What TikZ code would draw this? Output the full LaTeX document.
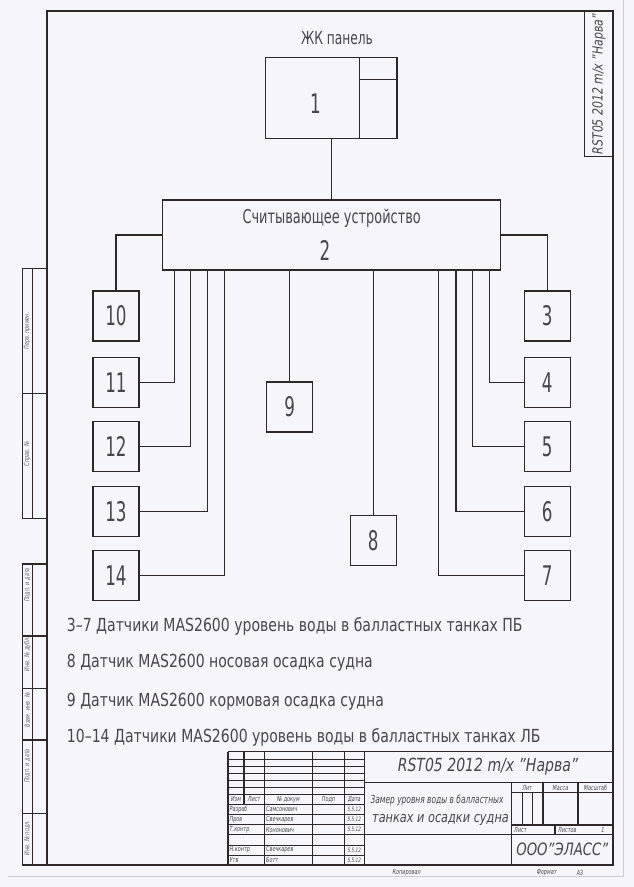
\documentclass[tikz,border=0pt]{standalone}
\usepackage{fontspec}
\setmainfont{DejaVu Sans}[FakeStretch=0.78]
\newfontfamily\numfont{DejaVu Sans}[FakeStretch=0.62]
\newfontfamily\smallfont{DejaVu Sans}[FakeStretch=0.7]
\newfontfamily\narrowfont{DejaVu Sans}[FakeStretch=0.68]
\usetikzlibrary{calc}
\definecolor{ink}{RGB}{45,40,42}
\definecolor{txt}{RGB}{72,70,76}
\definecolor{paper}{RGB}{245,245,250}
\definecolor{edge}{RGB}{205,205,212}
\tikzset{
  sbox/.style={draw=ink,line width=1.2pt,minimum width=46pt,minimum height=50pt,inner sep=0pt,
    font=\numfont\fontsize{27}{27}\selectfont,text=txt},
  wire/.style={draw=ink,line width=1.1pt},
  frm/.style={draw=ink,line width=1.8pt},
  tb/.style={draw=ink,line width=1.4pt},
  tbthin/.style={draw=ink,line width=0.5pt},
  legend/.style={anchor=base west,inner sep=0pt,text=txt,font=\fontsize{18}{18}\selectfont},
  tiny/.style={inner sep=0pt,text=txt,font=\smallfont\itshape\fontsize{7}{7}\selectfont},
  sidelab/.style={inner sep=0pt,text=txt!85,rotate=90,font=\smallfont\itshape\fontsize{7}{7}\selectfont}
}
\begin{document}
\begin{tikzpicture}[x=1pt,y=-1pt]
\useasboundingbox (0,0) rectangle (634,887);
\fill[paper] (0,0) rectangle (634,887);
% paper edge
\draw[edge,line width=0.8pt] (8,876) -- (623,876) -- (623,0);

% frame
\draw[frm] (47,11) rectangle (613,865);
% top right stamp
\draw[tb] (584.6,11) rectangle (613,156.7);
\node[rotate=90,inner sep=0pt,text=txt,font=\itshape\fontsize{14}{14}\selectfont] (stamp) at (599,84) {RST05 2012 m/x "Нарва"};

% left strips
\draw[tb] (22.3,268.3) rectangle (47,518.3);
\draw[tb] (32.3,268.3) -- (32.3,518.3);
\draw[tb] (22.3,393.3) -- (47,393.3);
\draw[tb] (22.3,564) rectangle (47,865);
\draw[tb] (32.3,564) -- (32.3,865);
\foreach \yy in {636,688.3,740,813.3} \draw[tb] (22.3,\yy) -- (47,\yy);
\node[sidelab] (s1) at (27.3,331) {Перв. примен.};
\node[sidelab] (s2) at (27.3,454) {Справ. №};
\node[sidelab] (s3) at (27.3,585) {Подп. и дата};
\node[sidelab] (s4) at (27.3,654) {Инв. № дубл.};
\node[sidelab] (s5) at (27.3,710) {Взам. инв. №};
\node[sidelab] (s6) at (27.3,766) {Подп. и дата};
\node[sidelab] (s7) at (27.3,838) {Инв. № подл.};

% LCD panel
\node[inner sep=0pt,text=txt,font=\narrowfont\fontsize{18}{18}\selectfont] (lcdlab) at (337,38.3) {ЖК панель};
\node[draw=ink,line width=1.2pt,minimum width=131.4pt,minimum height=81pt,inner sep=0pt] (lcd) at (331.3,98.2) {};
\draw[wire] ($(lcd.north west)+(94.6,0)$) -- ($(lcd.south west)+(94.6,0)$);
\draw[wire] ($(lcd.north west)+(94.6,22.3)$) -- ($(lcd.north east)+(0,22.3)$);
\node[inner sep=0pt,text=txt,font=\numfont\fontsize{27}{27}\selectfont] (lcdnum) at (315.4,103.3) {1};

% reader
\node[draw=ink,line width=1.2pt,minimum width=338pt,minimum height=70pt,inner sep=0pt] (reader) at (331.7,235) {};
\node[inner sep=0pt,text=txt,font=\narrowfont\fontsize{19}{19}\selectfont] (readerlab) at (331.7,218.3) {Считывающее устройство};
\node[inner sep=0pt,text=txt,font=\numfont\fontsize{27}{27}\selectfont] (readernum) at (325,250) {2};
\draw[wire] (lcd.south) -- (lcd.south |- reader.north);

% sensor boxes
\node[sbox] (b10) at (116,316) {10};
\node[sbox] (b11) at (116,382.2) {11};
\node[sbox] (b12) at (116,446.5) {12};
\node[sbox] (b13) at (116,511.3) {13};
\node[sbox] (b14) at (116,575.8) {14};
\node[sbox] (b3) at (547.2,316) {3};
\node[sbox] (b4) at (547.2,382.2) {4};
\node[sbox] (b5) at (547.2,446.5) {5};
\node[sbox] (b6) at (547.2,511.3) {6};
\node[sbox] (b7) at (547.2,575.8) {7};
\node[sbox] (b9) at (289.7,407) {9};
\node[sbox] (b8) at (373.1,540.7) {8};

% taps on reader bottom
\coordinate (t11) at (174.7,270);
\coordinate (t12) at (190.8,270);
\coordinate (t13) at (207.5,270);
\coordinate (t14) at (224.9,270);
\coordinate (t7) at (438.9,270);
\coordinate (t6) at (456,270);
\coordinate (t5) at (472.8,270);
\coordinate (t4) at (489.6,270);

\draw[wire] (reader.west) -| (b10.north);
\draw[wire] (reader.east) -| (b3.north);
\draw[wire] (b11.east) -| (t11);
\draw[wire] (b12.east) -| (t12);
\draw[wire] (b13.east) -| (t13);
\draw[wire] (b14.east) -| (t14);
\draw[wire] (b4.west) -| (t4);
\draw[wire] (b5.west) -| (t5);
\draw[wire] (b6.west) -| (t6);
\draw[wire] (b7.west) -| (t7);
\draw[wire] (b9.north) -- (b9.north |- reader.south);
\draw[wire] (b8.north) -- (b8.north |- reader.south);

% legend
\node[legend] (l1) at (66.7,631) {3–7 Датчики MAS2600 уровень воды в балластных танках ПБ};
\node[legend] (l2) at (66.7,667.7) {8 Датчик MAS2600 носовая осадка судна};
\node[legend] (l3) at (66.7,706) {9 Датчик MAS2600 кормовая осадка судна};
\node[legend] (l4) at (66.7,742.7) {10–14 Датчики MAS2600 уровень воды в балластных танках ЛБ};

% title block
\draw[tb] (228,751.7) -- (613,751.7);
\draw[tb] (228,751.7) -- (228,865);
\foreach \xx in {264.3,312.7,344.3,364.5} \draw[tb] (\xx,751.7) -- (\xx,865);
\draw[tb] (244,751.7) -- (244,804.3);
\foreach \yy in {758.8,765.9,773,780.1,787.2,814.4,824.5,834.6,844.8,854.9} \draw[tbthin] (228,\yy) -- (364.5,\yy);
\draw[tb] (228,794.3) -- (364.5,794.3);
\draw[tb] (228,804.3) -- (364.5,804.3);
\draw[tb] (364.5,782.3) -- (613,782.3);
\draw[tb] (364.5,834.3) -- (613,834.3);
\draw[tb] (511.7,782.3) -- (511.7,865);
\draw[tb] (511.7,792.7) -- (613,792.7);
\draw[tb] (511.7,825) -- (613,825);
\draw[tb] (542.9,782.3) -- (542.9,825);
\draw[tb] (578,782.3) -- (578,825);
\draw[tbthin] (522.1,792.7) -- (522.1,825);
\draw[tbthin] (532.5,792.7) -- (532.5,825);
\draw[tb] (555,825) -- (555,834.3);

\node[tiny] (h1) at (236,799.3) {Изм};
\node[tiny] (h2) at (254.2,799.3) {Лист};
\node[tiny] (h3) at (288.5,799.3) {№ докум};
\node[tiny] (h4) at (328.5,799.3) {Подп};
\node[tiny] (h5) at (354.4,799.3) {Дата};
\node[tiny,anchor=west] (r1) at (229.5,809.4) {Разраб};
\node[tiny,anchor=west] (r2) at (229.5,819.5) {Пров};
\node[tiny,anchor=west] (r3) at (229.5,829.6) {Т.контр};
\node[tiny,anchor=west] (r4) at (229.5,849.9) {Н.контр};
\node[tiny,anchor=west] (r5) at (229.5,860) {Утв};
\node[tiny,anchor=west] (n1) at (266,809.4) {Самсонович};
\node[tiny,anchor=west] (n2) at (266,819.5) {Свечкарев};
\node[tiny,anchor=west] (n3) at (266,829.6) {Кононович};
\node[tiny,anchor=west] (n4) at (266,849.9) {Свечкарев};
\node[tiny,anchor=west] (n5) at (266,860) {Ботт};
\foreach \yy/\nm in {809.4/d1,819.5/d2,829.6/d3,849.9/d4,860/d5}
  \node[tiny,font=\smallfont\itshape\fontsize{6}{6}\selectfont] (\nm) at (354.4,\yy) {5.5.12};

\node[inner sep=0pt,text=txt,font=\itshape\fontsize{18}{18}\selectfont] (desig) at (488,767) {RST05 2012 m/x "Нарва"};
\node[inner sep=0pt,text=txt,font=\narrowfont\itshape\fontsize{11}{11}\selectfont] (name1) at (437,800) {Замер уровня воды в балластных};
\node[inner sep=0pt,text=txt,font=\itshape\fontsize{14.5}{14.5}\selectfont] (name2) at (440.5,820) {танках и осадки судна};
\node[tiny] (lit) at (527.3,787.5) {Лит};
\node[tiny] (mass) at (560.5,787.5) {Масса};
\node[tiny] (scale) at (595.5,787.5) {Масштаб};
\node[tiny,anchor=west] (sheet) at (514,829.7) {Лист};
\node[tiny,anchor=west] (sheets) at (558,829.7) {Листов};
\node[tiny] (sheetsn) at (603,829.7) {1};
\node[inner sep=0pt,text=txt,font=\itshape\fontsize{17}{17}\selectfont] (org) at (562.3,849.6) {ООО"ЭЛАСС"};

% below frame
\node[tiny] (copied) at (406.7,872.7) {Копировал};
\node[tiny] (fmt) at (546.7,872.7) {Формат};
\node[tiny] (fmtv) at (580,872.7) {А3};
\end{tikzpicture}
\end{document}
